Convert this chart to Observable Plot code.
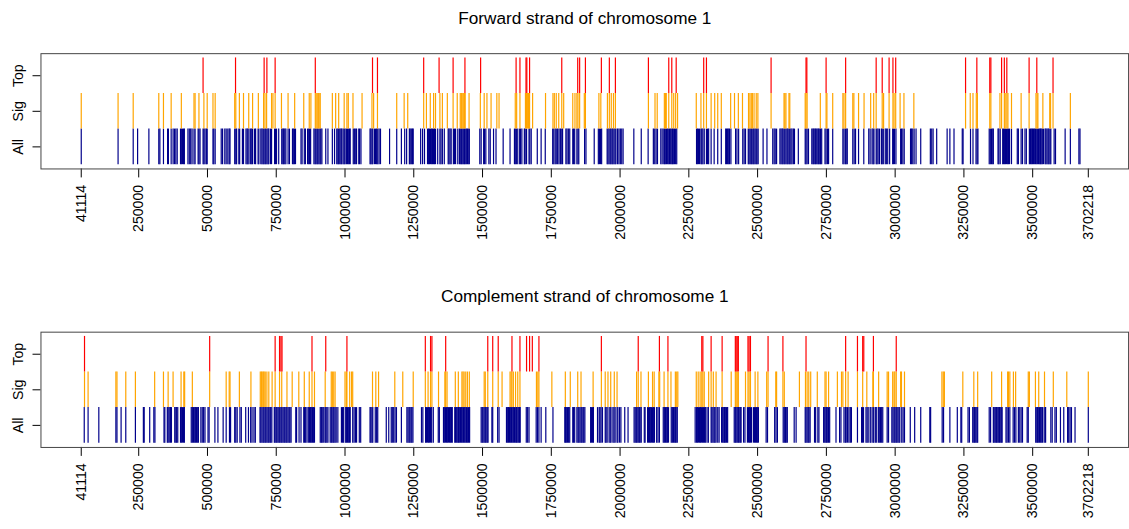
<!DOCTYPE html>
<html>
<head>
<meta charset="utf-8">
<script src="https://cdn.jsdelivr.net/npm/d3@7"></script>
<script src="https://cdn.jsdelivr.net/npm/@observablehq/plot@0.6"></script>
<style>
  html, body { margin: 0; padding: 0; background: #fff; }
  #chart { width: 1129px; height: 529px; overflow: hidden; background: #fff; }
  #chart svg { display: block; }
</style>
</head>
<body>
<div id="chart"></div>
<script>
// Tick marks along the chromosome (bp): first and last gene positions plus round steps
const xTickValues = [41114, 250000, 500000, 750000, 1000000, 1250000, 1500000, 1750000,
  2000000, 2250000, 2500000, 2750000, 3000000, 3250000, 3500000, 3702218];

const rowNames = ["All", "Sig", "Top"];
const rowColors = ["#00008B", "#FFA500", "#FF0000"];

// Gene start positions (kb), forward strand
const forwardAll = [41.114, 175, 230, 246, 287, 323, 327, 340, 355, 358, 368, 375, 380, 385, 390, 402, 405, 409, 413, 416, 429, 434, 439, 444, 451, 455, 466, 469, 473, 484, 487, 491, 496, 499, 520, 523, 528, 550, 555, 563, 568, 574, 579, 582, 599, 603, 606, 614, 617, 627, 631, 640, 644, 647, 651, 657, 661, 664, 671, 675, 684, 687, 694, 698, 702, 705, 709, 712, 716, 720, 723, 729, 733, 744, 747, 751, 759, 770, 774, 777, 781, 785, 793, 798, 809, 812, 816, 820, 840, 844, 852, 856, 864,
  868, 871, 875, 887, 891, 894, 898, 901, 905, 909, 912, 916, 930, 938, 954, 962, 970, 974, 977, 981, 985, 988, 993, 997, 1000, 1005, 1009, 1012, 1016, 1019, 1030, 1034, 1039, 1042, 1050, 1053, 1058, 1091, 1094, 1098, 1101, 1107, 1111, 1115, 1119, 1124, 1129, 1162, 1188, 1205, 1217, 1224, 1234, 1237, 1241, 1245, 1248, 1275, 1282, 1289, 1300, 1304, 1307, 1311, 1315, 1318, 1322, 1325, 1329, 1337, 1345, 1349, 1354, 1361, 1375, 1378, 1382, 1386, 1394, 1398, 1402, 1410, 1416, 1419, 1423, 1426, 1430, 1434, 1437, 1441, 1445, 1448, 1452, 1490, 1495, 1504, 1507, 1512, 1523, 1528, 1540, 1549, 1575, 1600, 1616, 1619, 1623, 1628, 1635, 1638, 1643, 1652, 1655, 1660, 1669, 1672, 1677, 1699, 1713, 1728, 1755, 1759, 1764, 1768, 1773, 1778, 1783, 1788, 1791, 1803, 1807, 1812, 1817, 1828, 1831, 1835,
  1843, 1847, 1850, 1871, 1876, 1906, 1921, 1925, 1929, 1933, 1953, 1956, 1960, 1964, 1967, 1971, 1974, 1978, 1982, 1985, 1991, 1996, 2001, 2006, 2011, 2050, 2077, 2102, 2121, 2126, 2131, 2136, 2148, 2153, 2159, 2162, 2166, 2169, 2173, 2177, 2180, 2184, 2188, 2191, 2195, 2198, 2202, 2206, 2278, 2281, 2285, 2289, 2294, 2297, 2301, 2306, 2314, 2318, 2322, 2331, 2342, 2355, 2368, 2384, 2387, 2391, 2395, 2398, 2403, 2420, 2425, 2431, 2446, 2451, 2456, 2466, 2469, 2473, 2477, 2480, 2484, 2487, 2491, 2495, 2498, 2502, 2520, 2534, 2555, 2560, 2564, 2569, 2581, 2585, 2589, 2592, 2596, 2599, 2603, 2607, 2610, 2614, 2617, 2621, 2625, 2630, 2634, 2648, 2673, 2676, 2680, 2685, 2697, 2701, 2704, 2708, 2711, 2715, 2719, 2722, 2726, 2729, 2733, 2745, 2749, 2754, 2758, 2773, 2810, 2814,
  2819, 2822, 2826, 2846, 2851, 2856, 2867, 2886, 2904, 2909, 2916, 2920, 2923, 2931, 2934, 2938, 2943, 2950, 2953, 2957, 2964, 2968, 2973, 2980, 2991, 2994, 2998, 3003, 3020, 3023, 3028, 3033, 3056, 3059, 3064, 3069, 3076, 3093, 3128, 3133, 3138, 3151, 3189, 3199, 3214, 3244, 3247, 3274, 3283, 3294, 3298, 3301, 3342, 3346, 3350, 3353, 3357, 3374, 3377, 3382, 3391, 3394, 3398, 3401, 3405, 3409, 3412, 3416, 3423, 3444, 3448, 3458, 3463, 3472, 3477, 3488, 3492, 3495, 3499, 3503, 3506, 3510, 3513, 3517, 3521, 3524, 3528, 3531, 3535, 3539, 3545, 3548, 3552, 3556, 3559, 3563, 3566, 3578, 3583, 3618, 3637, 3668, 3672];

const forwardSig = [41.114, 175, 230, 323, 340, 368, 405, 451, 455, 469, 487, 499, 520, 528, 599, 603, 616, 631, 650, 664, 685, 704, 709, 715, 733, 738, 746, 769, 793, 817, 850,
  870, 876, 892, 895, 899, 903, 906, 910, 954, 966, 977, 997, 1007, 1012, 1029, 1062, 1098, 1104, 1118, 1188, 1215, 1228, 1286, 1296, 1310, 1322, 1329, 1345, 1354, 1372, 1393, 1408, 1419, 1423, 1426, 1430, 1434, 1437, 1451, 1492, 1506, 1516, 1531, 1552, 1560, 1619, 1624, 1636, 1656, 1660, 1664, 1667, 1671, 1682, 1729, 1756, 1761, 1768, 1777, 1788, 1795, 1828, 1836,
  1843, 1847, 1853, 1870, 1874, 1923, 1930, 1954, 1961, 1968, 1976, 1983, 2103, 2127, 2135, 2161, 2165, 2168, 2177, 2188, 2195, 2202, 2209, 2277, 2294, 2304, 2314, 2331, 2344, 2355, 2368, 2402, 2416, 2430, 2445, 2467, 2472, 2477, 2481, 2487, 2495, 2501, 2549, 2596, 2599, 2603, 2614, 2617, 2673, 2676, 2680, 2728, 2749, 2752, 2773, 2810, 2814,
  2820, 2846, 2850, 2867, 2887, 2911, 2922, 2931, 2953, 2958, 2978, 2992, 2996, 3002, 3018, 3032, 3068, 3256, 3273, 3283, 3295, 3299, 3344, 3348, 3381, 3387, 3397, 3400, 3406, 3410, 3423, 3458, 3487, 3512, 3516, 3519, 3537, 3562, 3565, 3574, 3637];

const forwardTop = [484, 602, 706, 716, 746, 892, 1100, 1118, 1286, 1342, 1393, 1436, 1493, 1622, 1636, 1658, 1661, 1671, 1788, 1846, 1853, 1874, 1932, 1961, 1983, 2103, 2177, 2188, 2204, 2304, 2314, 2549, 2676, 2679, 2749, 2820, 2931, 2953, 2978, 2992, 3002, 3256, 3297, 3344, 3348, 3387, 3397, 3406, 3487, 3515, 3574];

// Gene start positions (kb), complement strand
const complementAll = [52, 66, 105, 167, 171, 186, 203, 238, 267, 270, 290, 305, 309, 342, 345, 354, 357, 361, 366, 369, 381, 385, 388, 392, 402, 405, 409, 413, 416, 441, 445, 449, 452, 456, 460, 463, 467, 476, 481, 486, 491, 502, 506, 527, 538, 557, 568, 580, 584, 599, 603, 608, 618, 623, 639, 649, 657, 662, 669, 674, 691, 694, 698, 702, 705, 709, 712, 716, 720, 723, 727, 730, 734, 743, 746, 750, 753, 757, 761, 764, 768, 771, 775, 779, 782, 786, 789, 793, 797, 800, 804, 821, 824, 833, 840, 850, 853, 857, 862,
  868, 871, 875, 879, 882, 886, 889, 910, 914, 917, 921, 927, 930, 934, 938, 946, 950, 953, 957, 960, 964, 968, 974, 987, 991, 994, 1001, 1005, 1009, 1012, 1016, 1019, 1028, 1033, 1038, 1042, 1052, 1057, 1091, 1094, 1098, 1101, 1110, 1115, 1119, 1150, 1159, 1168, 1172, 1177, 1182, 1187, 1205, 1225, 1229, 1233, 1236, 1240, 1243, 1247, 1278, 1283, 1293, 1296, 1300, 1304, 1307, 1311, 1315, 1321, 1339, 1343, 1358, 1361, 1365, 1369, 1372, 1376, 1380, 1383, 1387, 1390, 1399, 1402, 1406, 1410, 1413, 1417, 1420, 1424, 1428, 1431, 1435, 1439, 1442, 1446, 1449, 1453, 1495, 1499, 1502, 1506, 1510, 1513, 1517, 1520, 1534, 1537, 1555, 1560, 1587, 1590, 1594, 1598, 1601, 1605, 1608, 1612, 1616, 1619, 1623, 1626, 1630, 1634, 1637, 1659, 1664, 1669, 1695, 1700, 1705, 1713, 1730, 1756, 1799, 1802, 1806, 1809, 1813, 1817, 1828, 1831, 1835,
  1843, 1847, 1850, 1854, 1858, 1861, 1865, 1868, 1872, 1893, 1896, 1900, 1903, 1918, 1924, 1927, 1931, 1936, 1946, 1949, 1953, 1960, 1964, 1967, 1974, 1978, 1982, 1989, 1992, 1998, 2003, 2017, 2029, 2051, 2055, 2059, 2062, 2066, 2070, 2073, 2077, 2088, 2091, 2100, 2103, 2107, 2110, 2114, 2118, 2121, 2125, 2133, 2138, 2143, 2157, 2161, 2165, 2168, 2172, 2176, 2186, 2190, 2194, 2197, 2201, 2204, 2208, 2273, 2278, 2281, 2285, 2289, 2292, 2296, 2300, 2303, 2307, 2310, 2316, 2321, 2331, 2334, 2338, 2342, 2345, 2349, 2355, 2360, 2369, 2373, 2377, 2380, 2384, 2387, 2391, 2415, 2419, 2422, 2426, 2430, 2433, 2437, 2440, 2449, 2454, 2463, 2467, 2471, 2474, 2478, 2485, 2489, 2492, 2496, 2499, 2503, 2531, 2536, 2562, 2567, 2572, 2593, 2597, 2601, 2604, 2608, 2633, 2640, 2673, 2676, 2680, 2684, 2687, 2691, 2707, 2711, 2719, 2723, 2740, 2744, 2748, 2751, 2755, 2758, 2762, 2785, 2798, 2803, 2814,
  2819, 2822, 2827, 2832, 2837, 2841, 2863, 2878, 2881, 2885, 2894, 2898, 2902, 2909, 2912, 2919, 2922, 2928, 2933, 2940, 2944, 2947, 2951, 2955, 2971, 2976, 2988, 2992, 2996, 2999, 3003, 3006, 3010, 3014, 3017, 3024, 3029, 3034, 3055, 3071, 3093, 3126, 3129, 3171, 3176, 3199, 3226, 3239, 3242, 3265, 3270, 3282, 3286, 3289, 3293, 3297, 3300, 3342, 3347, 3357, 3360, 3364, 3368, 3371, 3375, 3379, 3382, 3386, 3389, 3403, 3407, 3412, 3417, 3429, 3434, 3439, 3448, 3453, 3458, 3463, 3480, 3484, 3511, 3515, 3518, 3522, 3525, 3529, 3533, 3536, 3542, 3547, 3566, 3571, 3581, 3586, 3601, 3613, 3627, 3631, 3636, 3641, 3654, 3702.218];

const complementSig = [53, 66, 167, 171, 203, 238, 308, 340, 357, 375, 404, 414, 417, 445, 508, 568, 579, 582, 616, 658, 692, 696, 699, 703, 706, 710, 716, 723, 735, 746, 762, 770, 789, 808, 832, 852,
  870, 880, 889, 928, 950, 954, 959, 964, 1000, 1005, 1007, 1017, 1024, 1028, 1100, 1112, 1122, 1181, 1210, 1248, 1292, 1302, 1311, 1316, 1340, 1363, 1366, 1371, 1401, 1412, 1425, 1429, 1433, 1439, 1445, 1452, 1506, 1510, 1519, 1537, 1557, 1571, 1600, 1604, 1607, 1612, 1620, 1628, 1636, 1696, 1701, 1705, 1752, 1801, 1819,
  1846, 1858, 1902, 1932, 1946, 1956, 1966, 1979, 1989, 2060, 2066, 2076, 2103, 2118, 2124, 2141, 2144, 2160, 2174, 2185, 2201, 2206, 2210, 2277, 2284, 2291, 2297, 2301, 2306, 2322, 2331, 2339, 2349, 2371, 2404, 2419, 2422, 2426, 2430, 2456, 2465, 2469, 2474, 2491, 2501, 2533, 2538, 2566, 2569, 2592, 2597, 2652, 2674, 2680, 2686, 2693, 2717, 2745, 2749, 2758, 2790, 2805, 2810,
  2820, 2829, 2863, 2882, 2897, 2919, 2921, 2940, 2971, 2976, 2991, 2996, 2999, 3004, 3020, 3023, 3034, 3170, 3175, 3179, 3246, 3286, 3300, 3351, 3387, 3409, 3412, 3417, 3430, 3438, 3484, 3488, 3510, 3522, 3543, 3575, 3624, 3702.218];

const complementTop = [53, 508, 746, 762, 767, 771, 880, 930, 1007, 1292, 1311, 1316, 1366, 1519, 1537, 1557, 1607, 1636, 1660, 1671, 1681, 1705, 1932, 2066, 2143, 2174, 2297, 2301, 2331, 2371, 2419, 2422, 2426, 2430, 2465, 2469, 2474, 2538, 2592, 2676, 2820, 2863, 2882, 2886, 2921, 3004];

const fontFamily = "'Liberation Sans', Arial, Helvetica, sans-serif";

// x range padded by 4% on each side, as in base R graphics
const xMin = 41114, xMax = 3702218, xPad = (xMax - xMin) * 0.04;

function strandPanel(title, rows, marginTop) {
  return Plot.plot({
    width: 1136,
    height: 280,
    marginLeft: 40.7,
    marginRight: 0.9,
    marginTop,
    marginBottom: 280 - marginTop - 116,
    style: { fontFamily, fontSize: "14.2px", color: "#000", background: "#fff", overflow: "visible" },
    x: {
      domain: [xMin - xPad, xMax + xPad],
      ticks: xTickValues,
      tickFormat: d => String(d),
      tickRotate: -90,
      tickSize: 9,
      tickPadding: 7,
      label: null
    },
    y: {
      domain: [0.38, 3.62],
      ticks: [1, 2, 3],
      tickFormat: () => "",
      tickSize: 8,
      label: null
    },
    marks: [
      ...rows.map((positions, i) => Plot.ruleX(positions, {
        x: kb => kb * 1000,
        y1: () => i + 0.5,
        y2: () => i + 1.5,
        stroke: rowColors[i],
        strokeWidth: 1.2
      })),
      Plot.frame({ stroke: "#444" }),
      Plot.text(rowNames, {
        text: d => d,
        y: (d, i) => i + 1,
        frameAnchor: "left",
        textAnchor: "middle",
        lineAnchor: "middle",
        dx: -22.2,
        rotate: -90,
        fontSize: 14.2,
        fill: "#000"
      }),
      Plot.text([title], {
        text: d => d,
        frameAnchor: "top",
        textAnchor: "middle",
        lineAnchor: "middle",
        dy: -35.5,
        fontSize: 17.3,
        fill: "#000"
      })
    ]
  });
}

const chart = document.getElementById("chart");
chart.append(strandPanel("Forward strand of chromosome 1", [forwardAll, forwardSig, forwardTop], 53.5));
chart.append(strandPanel("Complement strand of chromosome 1", [complementAll, complementSig, complementTop], 54));
</script>
</body>
</html>
